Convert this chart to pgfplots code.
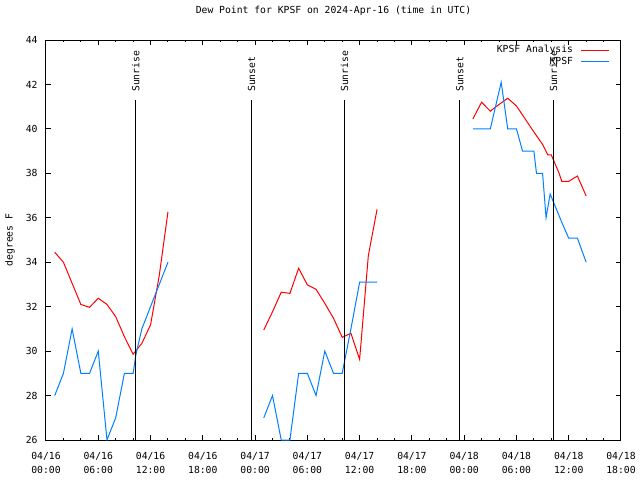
\documentclass[border=0pt]{standalone}
\usepackage{pgfplots}
\pgfplotsset{compat=1.18}
\usepackage{fontspec}
\setmainfont{DejaVu Sans Mono}
\definecolor{obsblue}{RGB}{0,128,255}
\definecolor{anared}{RGB}{255,0,0}
\newcommand\gfont{\fontsize{7.3}{10.5}\selectfont}
\begin{document}
\begin{tikzpicture}[x=1pt,y=1pt]
\path[use as bounding box] (-34.5,-30) rectangle (445.5,330);
\begin{axis}[
  at={(0,0)}, anchor=south west,
  scale only axis, width=431.25pt, height=300pt,
  xmin=0, xmax=66, ymin=26, ymax=44,
  xtick={0,6,...,66},
  xticklabels={{04/16\\00:00},{04/16\\06:00},{04/16\\12:00},{04/16\\18:00},
               {04/17\\00:00},{04/17\\06:00},{04/17\\12:00},{04/17\\18:00},
               {04/18\\00:00},{04/18\\06:00},{04/18\\12:00},{04/18\\18:00}},
  minor x tick num=2,
  ytick={26,28,30,32,34,36,38,40,42,44},
  yticklabels={26,28,30,32,34,36,38,40,42,44},
  tick align=inside,
  major tick length=3.4pt, minor tick length=1.8pt,
  every tick/.style={black, line width=0.75pt},
  axis line style={line width=0.75pt},
  xticklabel style={align=center, font=\gfont, yshift=-5.5pt},
  yticklabel style={font=\gfont, xshift=-2.85pt},
  title={Dew Point for KPSF on 2024-Apr-16 (time in UTC)},
  title style={font=\gfont, at={(0.5,1)}, anchor=center, yshift=15.75pt},
  unbounded coords=jump,
  legend plot pos=right,
  legend cell align=right,
  legend style={draw=none, fill=none, at={(rel axis cs:1,1)}, anchor=north east,
    xshift=-8.2pt, yshift=-3pt, font=\gfont, inner xsep=0pt, inner ysep=0pt,
    nodes={inner sep=0.8pt, text depth=0.15em}, column sep=5pt},
  legend image code/.code={\draw[#1] (0pt,0pt) -- (21pt,0pt);},
]
\addplot[anared, line width=0.75pt] coordinates {
 (1,34.45)(2,34.0)(3,33.05)(4,32.1)(5,31.97)(6,32.38)(7,32.1)(8,31.55)(9,30.65)
 (10,29.86)(11,30.35)(12,31.18)(13,33.4)(14,36.27)
 (20,nan)
 (25,30.95)(26,31.77)(27,32.65)(28,32.6)(29,33.73)(30,32.98)(31,32.78)(32,32.15)
 (33,31.48)(34,30.62)(35,30.8)(36,29.63)(37,34.3)(38,36.38)
 (44,nan)
 (49,40.45)(50,41.2)(51,40.8)(52,41.1)(53,41.38)(54,41.03)(55,40.45)(56,39.86)
 (57,39.3)(57.6,38.83)(58,38.83)(58.9,38.0)(59.2,37.64)(60,37.64)(61,37.88)(62,36.98)
};
\addlegendentry{KPSF Analysis}
\addplot[obsblue, line width=0.75pt] coordinates {
 (1,28)(2,29)(3,31)(4,29)(5,29)(6,30)(7,26)(8,27)(9,29)(10,29)(10.3,29.8)
 (11,31)(12,32)(13,33)(14,34)
 (20,nan)
 (25,27)(26,28)(27,26)(28,26)(29,29)(30,29)(31,28)(32,30)(33,29)(34,29)(35,31)
 (36,33.1)(37,33.1)(38,33.1)
 (44,nan)
 (49,40)(50,40)(51,40)(52.25,42.1)(53,40)(54,40)(54.7,39)(56,39)(56.3,38)(57,38)
 (57.4,36)(57.87,37.07)(58.94,36.05)(59.2,35.8)(60,35.08)(61,35.08)(62,34)
};
\addlegendentry{KPSF}
\addplot[black, line width=0.75pt, forget plot] coordinates {(10.3,26)(10.3,41.3)};
\addplot[black, line width=0.75pt, forget plot] coordinates {(23.6,26)(23.6,41.3)};
\addplot[black, line width=0.75pt, forget plot] coordinates {(34.25,26)(34.25,41.3)};
\addplot[black, line width=0.75pt, forget plot] coordinates {(47.5,26)(47.5,41.3)};
\addplot[black, line width=0.75pt, forget plot] coordinates {(58.25,26)(58.25,41.3)};
\node[rotate=90, anchor=west, inner sep=0pt, font=\gfont] at (axis cs:10.3,41.66) {Sunrise};
\node[rotate=90, anchor=west, inner sep=0pt, font=\gfont] at (axis cs:23.6,41.66) {Sunset};
\node[rotate=90, anchor=west, inner sep=0pt, font=\gfont] at (axis cs:34.25,41.66) {Sunrise};
\node[rotate=90, anchor=west, inner sep=0pt, font=\gfont] at (axis cs:47.5,41.66) {Sunset};
\node[rotate=90, anchor=west, inner sep=0pt, font=\gfont] at (axis cs:58.25,41.66) {Sunrise};
\end{axis}
\node[rotate=90, font=\gfont] at (-27,150) {degrees F};
\end{tikzpicture}
\end{document}
